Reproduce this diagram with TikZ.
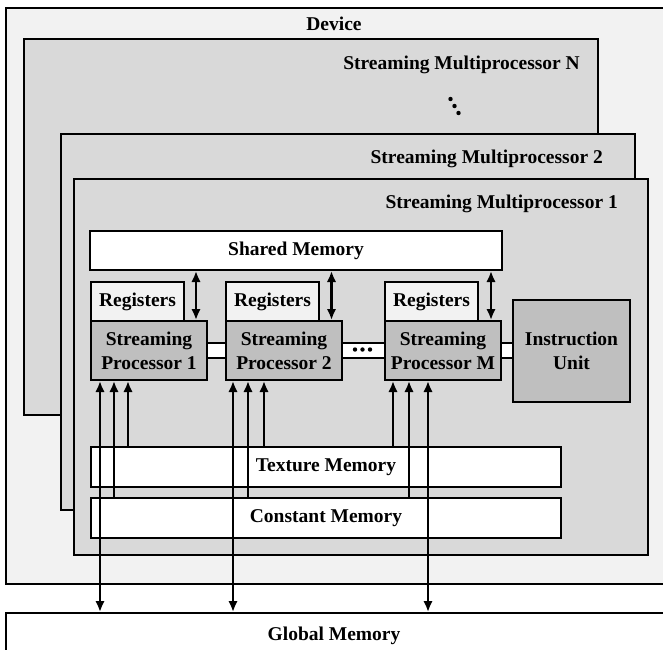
\documentclass[tikz,border=0pt]{standalone}
\usepackage{fontspec}
\setmainfont{Liberation Serif}
\usetikzlibrary{arrows.meta}
\definecolor{devfill}{HTML}{F2F2F2}
\definecolor{smfill}{HTML}{D9D9D9}
\definecolor{spfill}{HTML}{BFBFBF}
\begin{document}
\begin{tikzpicture}[x=1pt,y=-1pt,
  txt/.style={font=\fontsize{19.5}{23.7}\selectfont\bfseries, inner sep=0pt},
  blk/.style={draw=black, line width=2pt, inner sep=0pt, anchor=north west,
    align=center, font=\fontsize{19.5}{23.7}\selectfont\bfseries},
  devbox/.style={blk, fill=devfill},
  smbox/.style={blk, fill=smfill, minimum width=574pt, minimum height=376pt},
  membox/.style={blk, fill=white},
  regbox/.style={blk, fill=devfill, minimum width=93pt, minimum height=39pt},
  spbox/.style={blk, fill=spfill, minimum width=116pt, minimum height=59pt},
  uni/.style={line width=2.2pt, -{Latex[length=11pt,width=9.5pt]}},
  bi/.style={line width=2.2pt, {Latex[length=11pt,width=9.5pt]}-{Latex[length=11pt,width=9.5pt]}}
]
\useasboundingbox (0,0) rectangle (663,649);
\clip (0,0) rectangle (663,649);
\fill[white] (0,0) rectangle (663,649);

% Device
\node[devbox, minimum width=665pt, minimum height=576pt] (dev) at (5,7) {};
\node[txt, anchor=base] (tdev) at (334,30) {Device};

% Streaming multiprocessors
\node[smbox] (smN) at (23,38) {};
\node[txt, anchor=base east] (tsmN) at (580,69) {Streaming Multiprocessor N};
\fill (450.5,99) circle (2.2pt) (454.5,106) circle (2.2pt) (458.5,113) circle (2.2pt);

\node[smbox] (sm2) at (60,133) {};
\node[txt, anchor=base east] (tsm2) at (603,163) {Streaming Multiprocessor 2};

\node[smbox] (sm1) at (73,178) {};
\node[txt, anchor=base east] (tsm1) at (618,208) {Streaming Multiprocessor 1};

% Shared memory
\node[membox, minimum width=412pt, minimum height=39pt] (shared) at (89,230) {Shared Memory};

% bus band
\node[membox, minimum width=306pt, minimum height=15pt] (band) at (206,342) {};

% Registers
\node[regbox] (reg1) at (90,281) {Registers};
\node[regbox] (reg2) at (225,281) {Registers};
\node[regbox] (regM) at (384,281) {Registers};

% Streaming processors
\node[spbox] (sp1) at (90,320) {Streaming\\Processor 1};
\node[spbox] (sp2) at (225,320) {Streaming\\Processor 2};
\node[spbox] (spM) at (384,320) {Streaming\\Processor M};

\fill (355,349.5) circle (2.2pt) (362.5,349.5) circle (2.2pt) (370,349.5) circle (2.2pt);

% Instruction unit
\node[blk, fill=spfill, minimum width=117pt, minimum height=102pt] (iu) at (512,299) {Instruction\\Unit};

% Texture / constant memory
\node[membox, minimum width=470pt, minimum height=40pt] (tex) at (90,446) {Texture Memory};
\node[membox, minimum width=470pt, minimum height=40pt] (con) at (90,497) {Constant Memory};

% Global memory
\node[membox, minimum width=665pt, minimum height=60pt] (glob) at (5,612) {};
\node[txt, anchor=base] (tglob) at (334,640) {Global Memory};

% arrow columns
\coordinate (s1) at (196,0);
\coordinate (s2) at (331.5,0);
\coordinate (sM) at (491,0);
\coordinate (g1) at (100,0);
\coordinate (c1) at (114,0);
\coordinate (t1) at (128,0);
\coordinate (g2) at (233,0);
\coordinate (c2) at (248,0);
\coordinate (t2) at (264,0);
\coordinate (tM) at (393,0);
\coordinate (cM) at (409,0);
\coordinate (gM) at (428,0);

% shared <-> SP
\draw[bi] (s1 |- shared.south) -- (s1 |- sp1.north);
\draw[bi] (s2 |- shared.south) -- (s2 |- sp2.north);
\draw[bi] (sM |- shared.south) -- (sM |- spM.north);

% texture / constant -> SP
\draw[uni] (t1 |- tex.north) -- (t1 |- sp1.south);
\draw[uni] (c1 |- con.north) -- (c1 |- sp1.south);
\draw[uni] (t2 |- tex.north) -- (t2 |- sp2.south);
\draw[uni] (c2 |- con.north) -- (c2 |- sp2.south);
\draw[uni] (tM |- tex.north) -- (tM |- spM.south);
\draw[uni] (cM |- con.north) -- (cM |- spM.south);

% global <-> SP
\draw[bi] (g1 |- sp1.south) -- (g1 |- glob.north);
\draw[bi] (g2 |- sp2.south) -- (g2 |- glob.north);
\draw[bi] (gM |- spM.south) -- (gM |- glob.north);
\end{tikzpicture}
\end{document}
